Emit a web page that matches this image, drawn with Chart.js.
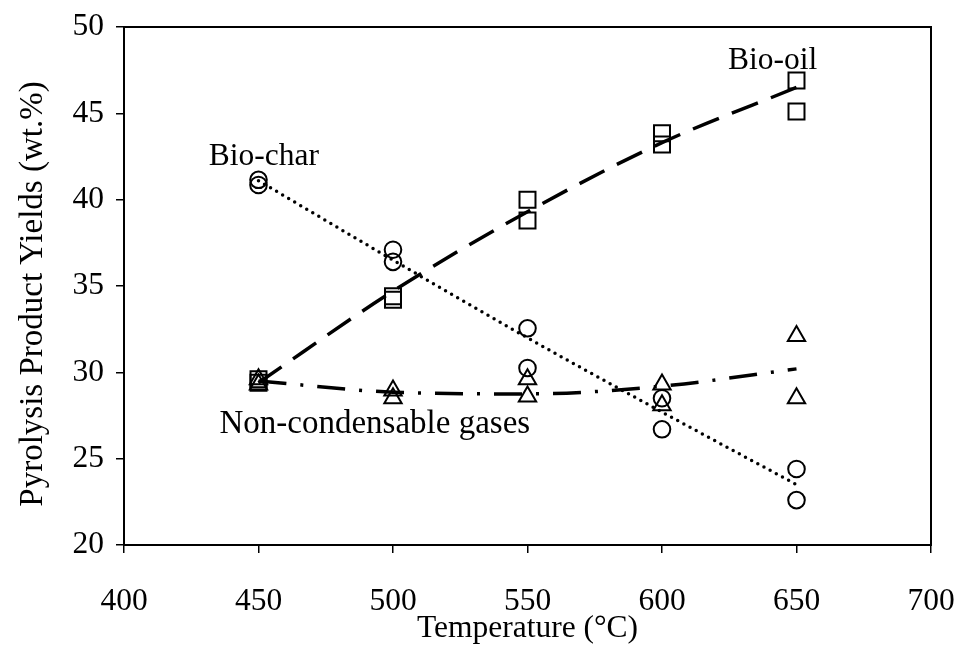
<!DOCTYPE html>
<html>
<head>
<meta charset="utf-8">
<script src="https://cdn.jsdelivr.net/npm/chart.js@4"></script>
<style>
  html, body { margin: 0; padding: 0; background: #fff; }
  #wrap { width: 955px; height: 646px; }
</style>
</head>
<body>
<div id="wrap"><canvas id="yieldChart" width="955" height="646"></canvas></div>
<script>
// pyrolysis runs, two replicates per temperature
const temps = [450, 450, 500, 500, 550, 550, 600, 600, 650, 650];
const bioOil = [29.6, 29.4, 34.4, 34.2, 40.0, 38.8, 43.85, 43.2, 46.9, 45.1];
const bioChar = [41.15, 40.85, 37.1, 36.4, 32.55, 30.25, 28.5, 26.7, 24.4, 22.6];
const gases = [29.6, 29.3, 28.95, 28.5, 29.6, 28.6, 29.3, 28.1, 32.1, 28.5];

// trend lines
const trendTemps = [450, 500, 550, 600, 650];
const oilTrend = [29.4, 34.7, 39.3, 43.3, 46.5];
const charTrend = [41.1, 36.5, 32.0, 27.7, 23.5];
const gasTrend = [29.5, 28.85, 28.75, 29.2, 30.2];

const xTicks = [400, 450, 500, 550, 600, 650, 700];
const yTicks = [20, 25, 30, 35, 40, 45, 50];

// label text, size and where it sits (data units)
const seriesLabels = [
  { text: 'Bio-oil', x: 624.5, y: 47.55, size: 31.5 },
  { text: 'Bio-char', x: 431.5, y: 42.0, size: 31.5 },
  { text: 'Non-condensable gases', x: 435.5, y: 26.5, size: 33 }
];

const FONT = '"Liberation Serif", "Times New Roman", serif';

function pts(xs, ys) {
  return xs.map((x, i) => ({ x: x, y: ys[i] }));
}

const frameAndLabels = {
  id: 'frameAndLabels',
  afterDraw(chart) {
    const ctx = chart.ctx;
    const a = chart.chartArea;
    const xs = chart.scales.x, ys = chart.scales.y;
    ctx.save();
    ctx.strokeStyle = '#000';
    ctx.lineWidth = 2;
    ctx.strokeRect(a.left, a.top, a.right - a.left, a.bottom - a.top);
    ctx.fillStyle = '#000';
    ctx.textAlign = 'left';
    ctx.textBaseline = 'alphabetic';
    seriesLabels.forEach(l => {
      ctx.font = l.size + 'px ' + FONT;
      ctx.fillText(l.text, xs.getPixelForValue(l.x), ys.getPixelForValue(l.y));
    });
    // y axis title, sits a little below the plot centre
    ctx.translate(33, (a.top + a.bottom) / 2 + 8);
    ctx.rotate(-Math.PI / 2);
    ctx.textAlign = 'center';
    ctx.textBaseline = 'middle';
    ctx.font = '33px ' + FONT;
    ctx.fillText('Pyrolysis Product Yields (wt.%)', 0, 0);
    ctx.restore();
  }
};

const markerBase = {
  showLine: false,
  borderColor: '#000',
  backgroundColor: 'rgba(0,0,0,0)',
  pointBorderColor: '#000',
  pointBackgroundColor: 'rgba(0,0,0,0)',
  pointBorderWidth: 2,
  pointHoverRadius: 0
};

const lineBase = {
  showLine: true,
  borderColor: '#000',
  pointRadius: 0,
  pointHoverRadius: 0,
  fill: false,
  cubicInterpolationMode: 'monotone'
};

const ctx = document.getElementById('yieldChart').getContext('2d');
new Chart(ctx, {
  type: 'scatter',
  data: {
    datasets: [
      Object.assign({}, lineBase, {
        label: 'Bio-oil trend', data: pts(trendTemps, oilTrend),
        borderWidth: 3.5, borderDash: [28, 14]
      }),
      Object.assign({}, lineBase, {
        label: 'Bio-char trend', data: pts(trendTemps, charTrend),
        borderWidth: 3.5, borderDash: [0, 7], borderCapStyle: 'round'
      }),
      Object.assign({}, lineBase, {
        label: 'Gases trend', data: pts(trendTemps, gasTrend),
        borderWidth: 3.5, borderDash: [28, 14, 3, 14]
      }),
      Object.assign({}, markerBase, {
        label: 'Bio-oil', data: pts(temps, bioOil),
        pointStyle: 'rect', pointRadius: 11.3
      }),
      Object.assign({}, markerBase, {
        label: 'Bio-char', data: pts(temps, bioChar),
        pointStyle: 'circle', pointRadius: 8.3
      }),
      Object.assign({}, markerBase, {
        label: 'Non-condensable gases', data: pts(temps, gases),
        pointStyle: 'triangle', pointRadius: 10
      })
    ]
  },
  options: {
    responsive: false,
    animation: false,
    layout: { padding: { left: 0, right: 24, top: 27, bottom: 0 } },
    plugins: {
      legend: { display: false },
      tooltip: { enabled: false }
    },
    scales: {
      x: {
        type: 'linear',
        min: 400, max: 700,
        afterBuildTicks: s => { s.ticks = xTicks.map(v => ({ value: v })); },
        afterFit: s => { s.height = 101; s.paddingLeft = 0; s.paddingRight = 0; },
        ticks: { color: '#000', font: { family: FONT, size: 31.5 }, padding: 30, maxRotation: 0 },
        grid: { drawOnChartArea: false, drawTicks: true, tickLength: 8, color: '#000', lineWidth: 1.5 },
        border: { color: '#000', width: 2 },
        title: {
          display: true, text: 'Temperature (°C)', color: '#000',
          font: { family: FONT, size: 31.5 }, padding: { top: 0, bottom: -2 }
        }
      },
      y: {
        type: 'linear',
        min: 20, max: 50,
        afterBuildTicks: s => { s.ticks = yTicks.map(v => ({ value: v })); },
        afterFit: s => { s.width = 124; s.paddingTop = 0; s.paddingBottom = 0; },
        ticks: { color: '#000', font: { family: FONT, size: 31.5 }, padding: 12 },
        grid: { drawOnChartArea: false, drawTicks: true, tickLength: 8, color: '#000', lineWidth: 1.5 },
        border: { color: '#000', width: 2 }
      }
    }
  },
  plugins: [frameAndLabels]
});
</script>
</body>
</html>
